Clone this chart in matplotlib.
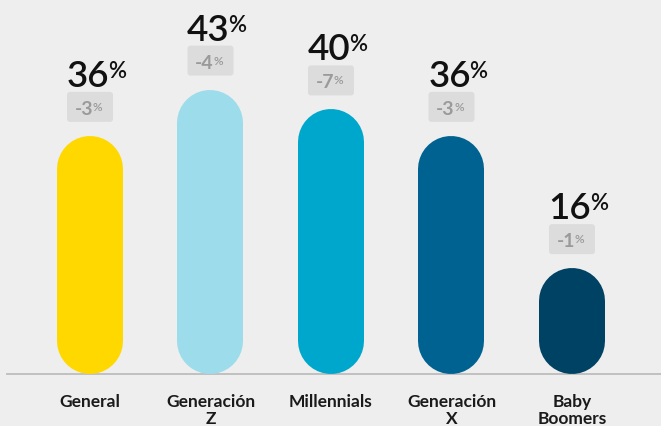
import matplotlib.pyplot as plt
from matplotlib import transforms
from matplotlib.patches import FancyBboxPatch

categories = ['General', 'Generación\nZ', 'Millennials', 'Generación\nX', 'Baby\nBoomers']
values = [36, 43, 40, 36, 16]
changes = [-3, -4, -7, -3, -1]
colors = ['#FFD800', '#9CDCEB', '#00A7CC', '#006290', '#004264']

BG = '#EEEEEE'
plt.rcParams['font.family'] = ['Lato', 'DejaVu Sans']

fig = plt.figure(figsize=(6.61, 4.27), dpi=100, facecolor=BG)
ax = fig.add_axes([0, 0, 1, 1])
ax.set_facecolor(BG)
ylo, yhi = -7.87, 56.7
ax.set_xlim(-0.747, 4.739)
ax.set_ylim(ylo, yhi)
ax.axis('off')

# rounded "pill" bars: thick lines with round caps, caps sized in pixels
px_per_y = fig.bbox.height / (yhi - ylo)
bar_px = 66
r = bar_px / 2 / px_per_y

ax.axhline(0, xmin=7 / 661, xmax=1, color='#BDBDBD', lw=1.3, zorder=1)

for i, (v, d, c, cat) in enumerate(zip(values, changes, colors, categories)):
    ax.plot([i, i], [r, v - r], color=c, lw=bar_px * 72 / fig.dpi,
            solid_capstyle='round', zorder=2)

    # big value label with raised percent sign
    num = ax.annotate(str(v), (i, v), xytext=(-2, 50), textcoords='offset pixels',
                      ha='center', va='baseline', fontsize=26.5, fontweight=600,
                      color='#111111')
    ax.annotate('%', xy=(1, 1), xycoords=num, xytext=(-1.5, -1),
                textcoords='offset pixels', ha='left', va='top',
                fontsize=16, fontweight=600, color='#111111')

    # grey change box
    box_tr = transforms.Affine2D() + transforms.ScaledTranslation(i, v, ax.transData)
    ax.add_patch(FancyBboxPatch((-23, 14), 46, 30, boxstyle='round,pad=0,rounding_size=3',
                                transform=box_tr, facecolor='#DCDCDC', edgecolor='none',
                                zorder=3))
    chg = ax.annotate(f'{d}', (i, v), xytext=(-6, 22), textcoords='offset pixels',
                      ha='center', va='baseline', fontsize=14, fontweight=700,
                      color='#9A9A9A', zorder=4)
    ax.annotate('%', xy=(1, 1), xycoords=chg, xytext=(-0.5, -1),
                textcoords='offset pixels', ha='left', va='top',
                fontsize=8.5, fontweight=600, color='#9A9A9A', zorder=4)

    ax.annotate(cat, (i, 0), xytext=(0, -19), textcoords='offset pixels',
                ha='center', va='top', fontsize=12.5, fontweight=700,
                color='#1A1A1A', linespacing=1.05)

fig.savefig('out.png', dpi=100, facecolor=BG)
